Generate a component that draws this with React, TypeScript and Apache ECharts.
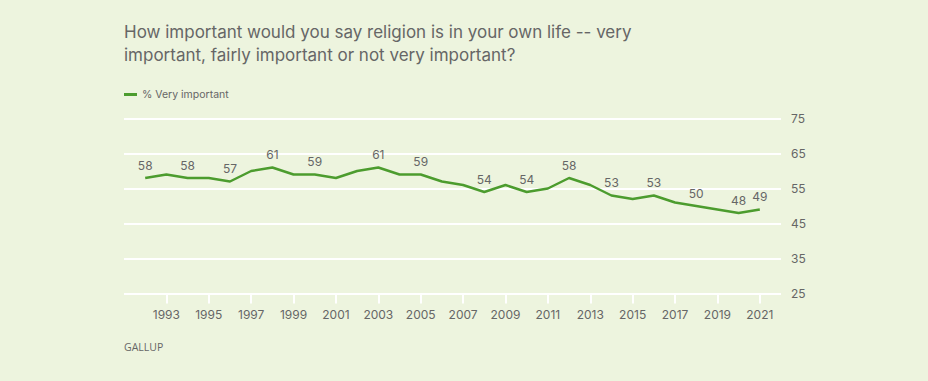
import React, { useEffect, useRef } from "react";
import * as echarts from "echarts";

const years = [
  1992, 1993, 1994, 1995, 1996, 1997, 1998, 1999, 2000, 2001, 2002, 2003, 2004, 2005, 2006,
  2007, 2008, 2009, 2010, 2011, 2012, 2013, 2014, 2015, 2016, 2017, 2018, 2019, 2020, 2021,
];
const veryImportant = [
  58, 59, 58, 58, 57, 60, 61, 59, 59, 58, 60, 61, 59, 59, 57,
  56, 54, 56, 54, 55, 58, 56, 53, 52, 53, 51, 50, 49, 48, 49,
];
const labeledYears = [1992, 1994, 1996, 1998, 2000, 2003, 2005, 2008, 2010, 2012, 2014, 2016, 2018, 2020, 2021];
const axisStartYear = 1991;
const axisEndYear = 2022;
const yTicks = [25, 35, 45, 55, 65, 75];
const xLabelYears = [1993, 1995, 1997, 1999, 2001, 2003, 2005, 2007, 2009, 2011, 2013, 2015, 2017, 2019, 2021];

const titleText =
  "How important would you say religion is in your own life -- very\nimportant, fairly important or not very important?";
const seriesName = "% Very important";
const sourceText = "GALLUP";

const FONT = "Inter, 'Noto Sans', sans-serif";
const TEXT = "#666666";
const GREEN = "#4c9c2e";
const BG = "#edf4de";

export default function App() {
  const ref = useRef<HTMLDivElement>(null);
  useEffect(() => {
    if (!ref.current) return;
    const chart = echarts.init(ref.current, undefined, { renderer: "svg" });
    const cats: string[] = [];
    for (let y = axisStartYear; y <= axisEndYear; y++) cats.push(String(y));
    const data = cats.map((c) => {
      const yr = Number(c);
      const i = years.indexOf(yr);
      if (i < 0) return null;
      return {
        value: veryImportant[i],
        label: { show: labeledYears.includes(yr) },
      };
    });
    const showIdx = (idx: number) => xLabelYears.includes(Number(cats[idx]));
    chart.setOption({
      animation: false,
      backgroundColor: BG,
      textStyle: { fontFamily: FONT },
      title: {
        text: titleText,
        left: 124,
        top: 20,
        padding: 0,
        textStyle: {
          fontFamily: FONT,
          fontSize: 17,
          fontWeight: "normal",
          color: TEXT,
          lineHeight: 23.5,
        },
      },
      legend: {
        left: 124,
        top: 89,
        padding: 0,
        icon: "rect",
        itemWidth: 13,
        itemHeight: 3,
        itemGap: 10,
        textStyle: { fontFamily: FONT, fontSize: 10.5, color: TEXT },
        data: [seriesName],
      },
      grid: { left: 124, right: 147, top: 118.5, bottom: 87.5, containLabel: false },
      xAxis: {
        type: "category",
        data: cats,
        boundaryGap: false,
        axisLine: { show: false },
        axisTick: {
          show: true,
          interval: (idx: number) => showIdx(idx),
          length: 10,
          lineStyle: { color: "#ffffff", width: 2 },
        },
        axisLabel: {
          interval: (idx: number) => showIdx(idx),
          color: TEXT,
          fontSize: 12,
          fontFamily: FONT,
          margin: 15,
        },
        splitLine: { show: false },
      },
      yAxis: {
        type: "value",
        position: "right",
        min: yTicks[0],
        max: yTicks[yTicks.length - 1],
        interval: 10,
        axisLine: { show: false },
        axisTick: { show: false },
        axisLabel: { color: TEXT, fontSize: 12, fontFamily: FONT, margin: 10 },
        splitLine: { lineStyle: { color: "#ffffff", width: 2 } },
      },
      series: [
        {
          name: seriesName,
          type: "line",
          data,
          connectNulls: false,
          showSymbol: true,
          symbol: "circle",
          symbolSize: 0,
          lineStyle: { color: GREEN, width: 2.5 },
          itemStyle: { color: GREEN },
          label: {
            show: false,
            position: "top",
            distance: 7,
            color: TEXT,
            fontSize: 12,
            fontFamily: FONT,
          },
        },
      ],
      graphic: [
        {
          type: "text",
          left: 124,
          top: 341,
          style: {
            text: sourceText,
            fill: TEXT,
            fontSize: 10.5,
            fontWeight: 500,
            fontFamily: "'Open Sans', " + FONT,
          },
        },
      ],
    });
    return () => chart.dispose();
  }, []);
  return (
    <div
      ref={ref}
      style={{ position: "absolute", left: 0, top: 0, width: 928, height: 381 }}
    />
  );
}
